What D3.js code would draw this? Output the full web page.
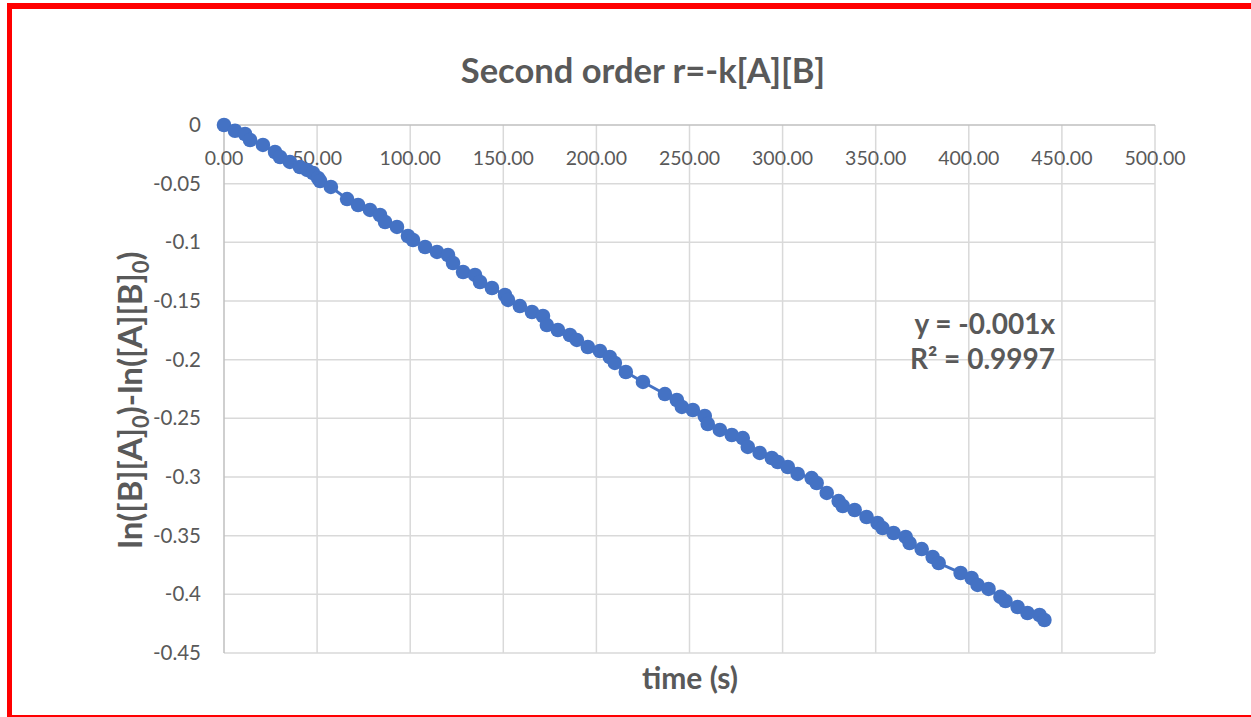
<!DOCTYPE html>
<html>
<head>
<meta charset="utf-8">
<script src="https://cdn.jsdelivr.net/npm/d3@7"></script>
<style>
  body { margin: 0; background: #ffffff; }
  text { font-family: Lato, "Open Sans", sans-serif; }
</style>
</head>
<body>
<script>
// time (s) and ln([B][A]0)-ln([A][B]0)
const times = [0, 5.9, 11.3, 14.0, 20.9, 27.4, 30.1, 35.4, 40.8, 44.6, 47.8, 50.5, 51.6, 57.4, 66.1, 72.0, 78.4, 83.8, 86.5, 92.9,
  98.8, 101.5, 108.0, 114.4, 120.3, 123.0, 128.4, 134.8, 137.5, 143.9, 150.9, 152.5, 158.9, 165.4, 171.3, 173.4, 179.3, 185.8, 189.5, 195.4,
  201.9, 207.2, 209.9, 215.8, 225.0, 236.8, 243.2, 245.9, 251.8, 258.2, 259.8, 266.3, 272.7, 278.6, 281.3, 287.7, 294.2, 297.4, 302.8, 308.1,
  315.6, 318.3, 323.7, 330.1, 332.3, 338.7, 345.1, 351.0, 353.7, 359.6, 366.1, 368.2, 374.7, 380.6, 383.8, 395.6, 401.5, 404.7, 410.6, 417.0,
  419.7, 426.2, 431.5, 438.0, 440.6];
const lnRatio = [0, -0.0049, -0.0077, -0.0128, -0.0170, -0.0230, -0.0273, -0.0315, -0.0358, -0.0383, -0.0409, -0.0452, -0.0477, -0.0528, -0.0631, -0.0682, -0.0724, -0.0767, -0.0827, -0.0869,
  -0.0946, -0.0980, -0.1040, -0.1082, -0.1108, -0.1176, -0.1253, -0.1278, -0.1338, -0.1389, -0.1449, -0.1491, -0.1543, -0.1594, -0.1628, -0.1705, -0.1747, -0.1790, -0.1832, -0.1892,
  -0.1926, -0.1977, -0.2028, -0.2105, -0.2190, -0.2293, -0.2344, -0.2403, -0.2429, -0.2480, -0.2548, -0.2599, -0.2642, -0.2668, -0.2744, -0.2795, -0.2838, -0.2872, -0.2915, -0.2974,
  -0.3009, -0.3051, -0.3136, -0.3205, -0.3247, -0.3281, -0.3341, -0.3392, -0.3435, -0.3477, -0.3511, -0.3563, -0.3614, -0.3682, -0.3733, -0.3818, -0.3861, -0.3920, -0.3954, -0.4022,
  -0.4057, -0.4108, -0.4159, -0.4176, -0.4219];
const xTicks = [0, 50, 100, 150, 200, 250, 300, 350, 400, 450, 500];
const yTicks = [0, -0.05, -0.1, -0.15, -0.2, -0.25, -0.3, -0.35, -0.4, -0.45];
const trendLabels = ["y = -0.001x", "R² = 0.9997"];

const width = 1251, height = 717;
const blue = "#4472c4", grey = "#595959";

const svg = d3.select("body").append("svg")
    .attr("width", width)
    .attr("height", height);

// red frame round the chart
svg.append("rect").attr("x", 7).attr("y", 3).attr("width", 5).attr("height", 714).attr("fill", "#ff0000");
svg.append("rect").attr("x", 7).attr("y", 3).attr("width", 1244).attr("height", 6).attr("fill", "#ff0000");
svg.append("rect").attr("x", 7).attr("y", 715).attr("width", 1244).attr("height", 2).attr("fill", "#ff0000");

const x = d3.scaleLinear().domain([0, 500]).range([224, 1155]);
const y = d3.scaleLinear().domain([-0.45, 0]).range([653, 125]);

// gridlines
svg.append("g").selectAll("line")
    .data(xTicks.slice(1))
    .enter().append("line")
    .attr("x1", d => x(d)).attr("x2", d => x(d))
    .attr("y1", y(0)).attr("y2", y(-0.45))
    .style("stroke", "#d9d9d9").style("stroke-width", 1.5);
svg.append("g").selectAll("line")
    .data(yTicks.slice(1))
    .enter().append("line")
    .attr("x1", x(0)).attr("x2", x(500))
    .attr("y1", d => y(d)).attr("y2", d => y(d))
    .style("stroke", "#d9d9d9").style("stroke-width", 1.5);

// axis lines (x axis crosses at y = 0)
svg.append("line")
    .attr("x1", x(0)).attr("x2", x(500)).attr("y1", y(0)).attr("y2", y(0))
    .style("stroke", "#bfbfbf").style("stroke-width", 1.5);
svg.append("line")
    .attr("x1", x(0)).attr("x2", x(0)).attr("y1", y(0)).attr("y2", y(-0.45))
    .style("stroke", "#bfbfbf").style("stroke-width", 1.5);

// tick labels
svg.append("g").selectAll("text")
    .data(xTicks)
    .enter().append("text")
    .attr("x", d => x(d))
    .attr("y", y(0) + 40)
    .attr("text-anchor", "middle")
    .style("fill", grey).style("font-size", "19.5px")
    .text(d => d3.format(".2f")(d));
svg.append("g").selectAll("text")
    .data(yTicks)
    .enter().append("text")
    .attr("x", 201)
    .attr("y", d => y(d) + 7)
    .attr("text-anchor", "end")
    .style("fill", grey).style("font-size", "20.5px")
    .text(d => d);

// series line + markers
const points = times.map((t, i) => [t, lnRatio[i]]);
svg.append("path")
    .datum(points)
    .attr("d", d3.line().x(d => x(d[0])).y(d => y(d[1])))
    .style("fill", "none").style("stroke", blue).style("stroke-width", 3);
svg.append("g").selectAll("circle")
    .data(points)
    .enter().append("circle")
    .attr("cx", d => x(d[0]))
    .attr("cy", d => y(d[1]))
    .attr("r", 7.3)
    .style("fill", blue);

// title
svg.append("text")
    .attr("x", 643).attr("y", 83)
    .attr("text-anchor", "middle")
    .style("fill", grey).style("font-size", "34.5px").style("font-weight", "bold")
    .text("Second order r=-k[A][B]");

// axis titles
svg.append("text")
    .attr("x", 690).attr("y", 689)
    .attr("text-anchor", "middle")
    .style("fill", grey).style("font-size", "30px").style("font-weight", "bold")
    .text("time (s)");

const yTitle = svg.append("text")
    .attr("transform", "translate(142, 400) rotate(-90)")
    .attr("text-anchor", "middle")
    .style("fill", grey).style("font-size", "33px").style("font-weight", "bold");
[["ln([B][A]", false], ["0", true], [")-ln([A][B]", false], ["0", true], [")", false]].forEach(p => {
  const ts = yTitle.append("tspan").text(p[0]);
  if (p[1]) ts.attr("baseline-shift", "-30%").style("font-size", "22px");
});

// trendline label
svg.append("g").selectAll("text")
    .data(trendLabels)
    .enter().append("text")
    .attr("x", 1055)
    .attr("y", (d, i) => 334 + i * 35)
    .attr("text-anchor", "end")
    .style("fill", grey).style("font-size", "28px").style("font-weight", "bold")
    .text(d => d);
</script>
</body>
</html>
